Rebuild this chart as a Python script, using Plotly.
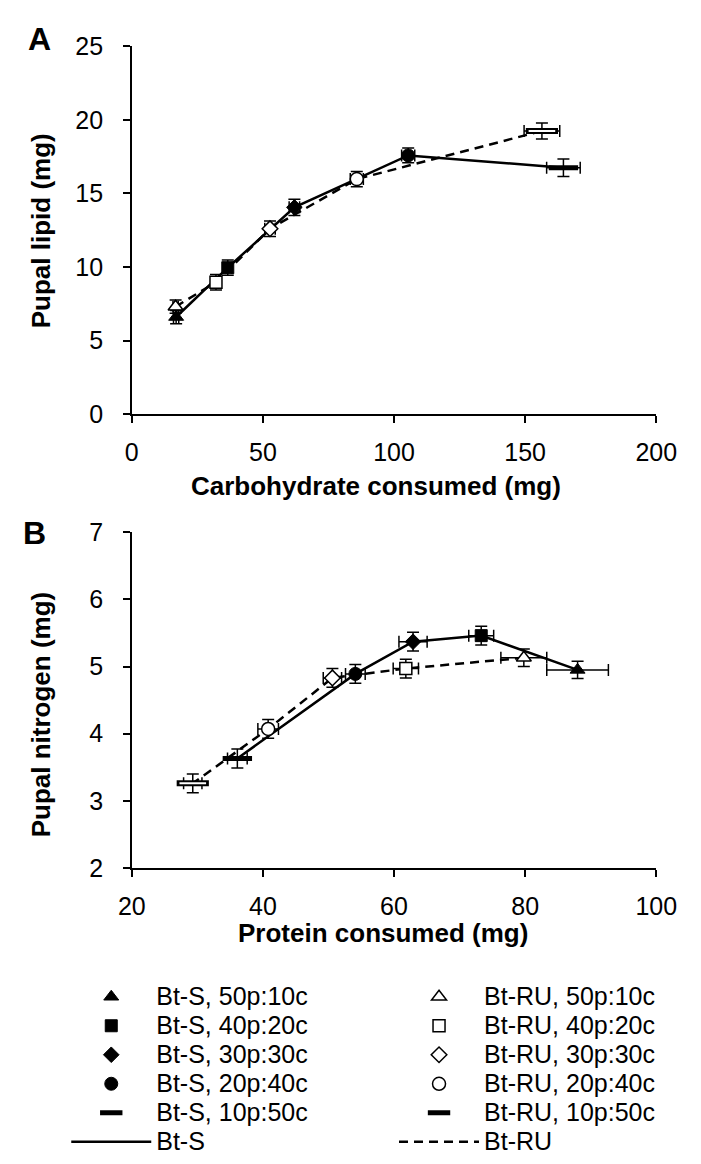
import plotly.graph_objects as go

# ---------------- data ----------------
diets = ["50p:10c", "40p:20c", "30p:30c", "20p:40c", "10p:50c"]

# Panel A: carbohydrate consumed vs pupal lipid
carb_S = [16.9, 36.6, 62.0, 105.4, 164.6]
carb_S_err = [1.0, 1.5, 2.0, 2.5, 6.4]
lipid_S = [6.6, 9.95, 14.05, 17.58, 16.74]
lipid_S_err = [0.45, 0.52, 0.55, 0.5, 0.59]

carb_RU = [16.7, 32.1, 52.7, 85.8, 156.4]
carb_RU_err = [1.0, 1.5, 2.0, 2.5, 6.8]
lipid_RU = [7.3, 8.96, 12.6, 15.97, 19.24]
lipid_RU_err = [0.45, 0.52, 0.53, 0.52, 0.55]

# Panel B: protein consumed vs pupal nitrogen
prot_S = [88.0, 73.3, 62.9, 54.1, 36.1]
prot_S_err = [4.7, 1.9, 2.15, 1.5, 1.5]
nitro_S = [4.95, 5.46, 5.37, 4.89, 3.63]
nitro_S_err = [0.13, 0.14, 0.14, 0.14, 0.14]

prot_RU = [79.8, 61.8, 50.6, 40.8, 29.3]
prot_RU_err = [3.5, 1.93, 1.4, 1.57, 1.4]
nitro_RU = [5.13, 4.97, 4.83, 4.07, 3.26]
nitro_RU_err = [0.13, 0.14, 0.14, 0.14, 0.14]

# ---------------- styles ----------------
W, H = 701, 1164
FONT = "Liberation Sans, Arial, sans-serif"
symbols = ["triangle-up", "square", "diamond", "circle", "line-ew"]
sizes = [13, 12, 12, 13, 21]

fig = go.Figure()

def px_x(p):
    return p / W

def px_y(p):
    return 1 - p / H

def err(v):
    return dict(type="data", array=[v], color="black", thickness=1.5, width=6)

def marker_style(i, filled):
    sym = symbols[i]
    if sym == "line-ew":
        if filled:
            return dict(symbol=sym, size=sizes[i], color="black",
                        line=dict(color="black", width=5))
        return dict(symbol=sym, size=sizes[i] + 2, color="black",
                    line=dict(color="black", width=6))
    if filled:
        return dict(symbol=sym, size=sizes[i], color="black",
                    line=dict(color="black", width=1))
    return dict(symbol=sym, size=sizes[i], color="white",
                line=dict(color="black", width=1.5))

def legend_name(txt):
    return '<span style="font-size:25px">' + txt + '</span>'

panels = [
    ("x", "y", carb_S, carb_S_err, lipid_S, lipid_S_err,
     carb_RU, carb_RU_err, lipid_RU, lipid_RU_err),
    ("x2", "y2", prot_S, prot_S_err, nitro_S, nitro_S_err,
     prot_RU, prot_RU_err, nitro_RU, nitro_RU_err),
]

for pi, (xa, ya, xs, xse, ys, yse, xr, xre, yr, yre) in enumerate(panels):
    show = pi == 0
    # connecting lines
    fig.add_trace(go.Scatter(x=xs, y=ys, mode="lines", xaxis=xa, yaxis=ya,
                             line=dict(color="black", width=2.5),
                             name=legend_name("Bt-S"), legend="legend",
                             legendgroup="lineS", legendrank=100,
                             showlegend=show))
    fig.add_trace(go.Scatter(x=xr, y=yr, mode="lines", xaxis=xa, yaxis=ya,
                             line=dict(color="black", width=2.5, dash="9px,6px"),
                             name=legend_name("Bt-RU"), legend="legend2",
                             legendgroup="lineRU", legendrank=100,
                             showlegend=show))
    # points
    for i, d in enumerate(diets):
        fig.add_trace(go.Scatter(
            x=[xr[i]], y=[yr[i]], mode="markers", xaxis=xa, yaxis=ya,
            marker=marker_style(i, False),
            error_x=err(xre[i]), error_y=err(yre[i]),
            name=legend_name("Bt-RU, " + d), legend="legend2",
            legendgroup="RU" + d, legendrank=i + 1, showlegend=show))
        if symbols[i] == "line-ew":
            fig.add_trace(go.Scatter(
                x=[xr[i]], y=[yr[i]], mode="markers", xaxis=xa, yaxis=ya,
                marker=dict(symbol="line-ew", size=sizes[i] - 2, color="white",
                            line=dict(color="white", width=2)),
                legendgroup="RU" + d, showlegend=False, hoverinfo="skip"))
    for i, d in enumerate(diets):
        fig.add_trace(go.Scatter(
            x=[xs[i]], y=[ys[i]], mode="markers", xaxis=xa, yaxis=ya,
            marker=marker_style(i, True),
            error_x=err(xse[i]), error_y=err(yse[i]),
            name=legend_name("Bt-S, " + d), legend="legend",
            legendgroup="S" + d, legendrank=i + 1, showlegend=show))

axis_common = dict(showline=True, linecolor="black", linewidth=1.5,
                   ticks="outside", ticklen=7, tickwidth=1.5, tickcolor="black",
                   showgrid=False, zeroline=False,
                   tickfont=dict(family=FONT, size=25, color="black"))

x_dom = [px_x(124), px_x(676)]
fig.update_layout(
    width=W, height=H, margin=dict(l=0, r=0, t=0, b=0),
    paper_bgcolor="white", plot_bgcolor="white",
    font=dict(family=FONT, color="black"),
    xaxis=dict(domain=x_dom, anchor="y", range=[0, 200], dtick=50,
               tick0=0, ticklabelstandoff=8, **axis_common),
    yaxis=dict(domain=[px_y(410), px_y(33)], anchor="x", range=[0, 25],
               dtick=5, tick0=0, ticklabelstandoff=15, **axis_common),
    xaxis2=dict(domain=x_dom, anchor="y2", range=[20, 100], dtick=20,
                tick0=20, ticklabelstandoff=8, **axis_common),
    yaxis2=dict(domain=[px_y(875), px_y(531)], anchor="x2", range=[2, 7],
                dtick=1, tick0=2, ticklabelstandoff=15, **axis_common),
    legend=dict(x=px_x(55), y=px_y(987), xanchor="left", yanchor="top",
                orientation="v", itemwidth=80, bgcolor="rgba(0,0,0,0)",
                font=dict(family=FONT, size=20, color="black"),
                traceorder="normal"),
    legend2=dict(x=px_x(400), y=px_y(987), xanchor="left", yanchor="top",
                 orientation="v", itemwidth=80, bgcolor="rgba(0,0,0,0)",
                 font=dict(family=FONT, size=20, color="black"),
                 traceorder="normal"),
    showlegend=True,
)

def ann(text, x, y, size, bold=True, angle=0):
    fig.add_annotation(text=("<b>" + text + "</b>") if bold else text,
                       x=px_x(x), y=px_y(y), xref="paper", yref="paper",
                       xanchor="center", yanchor="middle", showarrow=False,
                       textangle=angle,
                       font=dict(family=FONT, size=size, color="black"))

ann("A", 27, 26, 32)
ann("B", 22, 532, 32)
ann("Pupal lipid (mg)", 28, 222, 26, angle=-90)
ann("Carbohydrate consumed (mg)", 381, 484, 26)
ann("Pupal nitrogen (mg)", 28, 718, 26, angle=-90)
ann("Protein consumed (mg)", 388, 942, 26)

fig.write_html(
    "out.html",
    post_script="document.body.style.margin='0';document.body.style.overflow='hidden';",
)
